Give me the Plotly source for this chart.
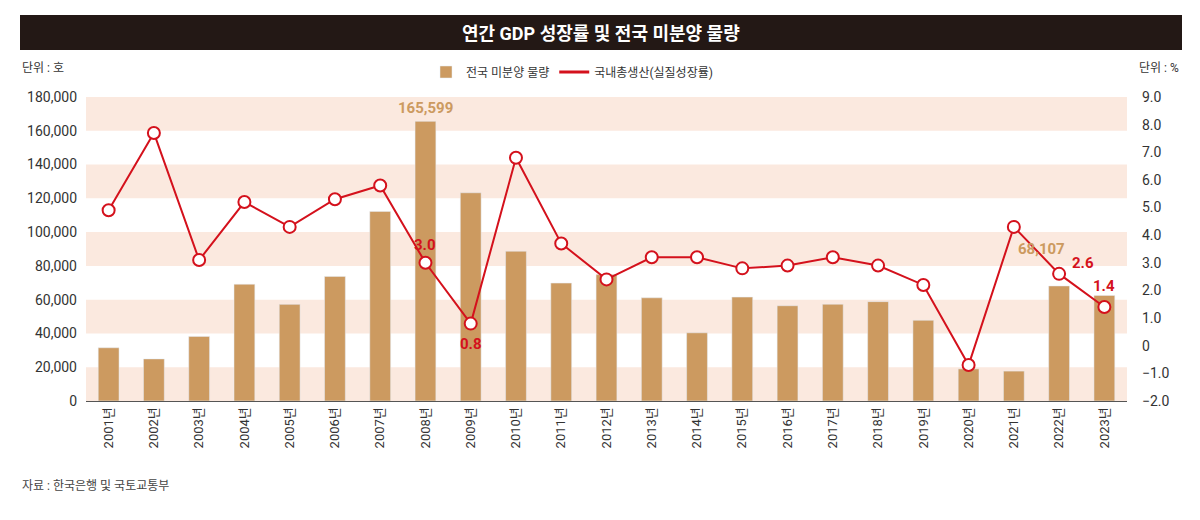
import plotly.graph_objects as go

years = [f"{y}년" for y in range(2001, 2024)]
unsold = [31512, 24923, 38261, 69133, 57215, 73772, 112254, 165599, 123297, 88706,
          69807, 74835, 61091, 40379, 61512, 56413, 57330, 58838, 47797, 19005,
          17710, 68107, 62489]
gdp = [4.9, 7.7, 3.1, 5.2, 4.3, 5.3, 5.8, 3.0, 0.8, 6.8,
       3.7, 2.4, 3.2, 3.2, 2.8, 2.9, 3.2, 2.9, 2.2, -0.7,
       4.3, 2.6, 1.4]
left_ticks = [0, 20000, 40000, 60000, 80000, 100000, 120000, 140000, 160000, 180000]
right_ticks = [-2, -1, 0, 1, 2, 3, 4, 5, 6, 7, 8, 9]
right_ticktext = ["−2.0", "−1.0", "0", "1.0", "2.0", "3.0", "4.0", "5.0", "6.0", "7.0", "8.0", "9.0"]
bar_labels = {"2008년": ("165,599", 0, 2), "2022년": ("68,107", -18, 26)}
line_labels = {"2008년": ("3.0", 0, 18), "2009년": ("0.8", 0, -20), "2022년": ("2.6", 24, 11), "2023년": ("1.4", 0, 21)}

BAR = "#CC9A60"
RED = "#D4111C"
BAND = "#FBE9DF"
FONT = "Roboto, Noto Sans CJK KR, sans-serif"

W, H = 1200, 520
L, R, T, B = 86, 73, 97, 119
pw, ph = W - L - R, H - T - B

def px_x(x):
    return (x - L) / pw

def px_y(y):
    return (H - B - y) / ph

fig = go.Figure()
fig.add_trace(go.Bar(x=years, y=unsold, name="전국 미분양 물량", marker_color=BAR,
                     width=0.46, yaxis="y"))
fig.add_trace(go.Scatter(x=years, y=gdp, name="국내총생산(실질성장률)", mode="lines+markers",
                         line=dict(color=RED, width=2),
                         marker=dict(size=12, color="white", line=dict(color=RED, width=2)),
                         yaxis="y2", showlegend=False))
fig.add_trace(go.Scatter(x=[None], y=[None], name="국내총생산(실질성장률)", mode="lines",
                         line=dict(color=RED, width=3), yaxis="y2", showlegend=True))

shapes = []
for i in range(0, len(left_ticks) - 1, 2):
    shapes.append(dict(type="rect", xref="paper", yref="y", x0=0, x1=1,
                       y0=left_ticks[i], y1=left_ticks[i + 1],
                       fillcolor=BAND, line_width=0, layer="below"))
shapes.append(dict(type="rect", xref="paper", yref="paper",
                   x0=px_x(20), x1=px_x(1182), y0=px_y(50), y1=px_y(15),
                   fillcolor="#231815", line_width=0))

annotations = [
    dict(text="<b>연간 GDP 성장률 및 전국 미분양 물량</b>", xref="paper", yref="paper",
         x=px_x(601), y=px_y(33), showarrow=False, font=dict(size=18, color="white", family=FONT),
         xanchor="center", yanchor="middle"),
    dict(text="단위 : 호", xref="paper", yref="paper", x=px_x(20), y=px_y(68), showarrow=False,
         xanchor="left", yanchor="middle", font=dict(size=12, color="#333", family=FONT)),
    dict(text="단위 : %", xref="paper", yref="paper", x=px_x(1181), y=px_y(68), showarrow=False,
         xanchor="right", yanchor="middle", font=dict(size=12, color="#333", family=FONT)),
    dict(text="자료 : 한국은행 및 국토교통부", xref="paper", yref="paper", x=px_x(20), y=px_y(485), showarrow=False,
         xanchor="left", yanchor="middle", font=dict(size=12, color="#444", family=FONT)),
]
for yr, (txt, dx, dy) in bar_labels.items():
    v = unsold[years.index(yr)]
    annotations.append(dict(text=f"<b>{txt}</b>", x=yr, y=v, xref="x", yref="y", showarrow=False,
                            yanchor="bottom", xshift=dx, yshift=dy,
                            font=dict(size=15, color="#CC9A60", family=FONT)))
for yr, (txt, dx, dy) in line_labels.items():
    v = gdp[years.index(yr)]
    annotations.append(dict(text=f"<b>{txt}</b>", x=yr, y=v, xref="x", yref="y2", showarrow=False,
                            xshift=dx, yshift=dy, xanchor="center", yanchor="middle",
                            font=dict(size=15, color=RED, family=FONT)))

fig.update_layout(
    width=W, height=H,
    margin=dict(l=L, r=R, t=T, b=B),
    paper_bgcolor="white", plot_bgcolor="white",
    font=dict(family=FONT, color="#333", size=14),
    showlegend=True,
    legend=dict(orientation="h", x=px_x(572), y=px_y(72), xanchor="center", yanchor="middle",
                font=dict(size=12, family=FONT, color="#333"), bgcolor="rgba(0,0,0,0)",
                itemwidth=30, tracegroupgap=0),
    bargap=0.5,
    xaxis=dict(type="category", range=[-0.5, len(years) - 0.5], tickangle=-90,
               showgrid=False, showline=True, linecolor="#555", linewidth=1, ticks="",
               tickfont=dict(size=13, color="#333"), fixedrange=True),
    yaxis=dict(range=[0, 180000], tickvals=left_ticks, tickformat=",", showgrid=False,
               zeroline=False, ticks="", tickfont=dict(size=14, color="#333"), ticklabelstandoff=8),
    yaxis2=dict(range=[-2, 9], overlaying="y", side="right", tickvals=right_ticks,
                ticktext=right_ticktext, showgrid=False, zeroline=False, ticks="",
                tickfont=dict(size=14, color="#333"), ticklabelstandoff=14),
    shapes=shapes,
    annotations=annotations,
)

fig.write_html("out.html")
